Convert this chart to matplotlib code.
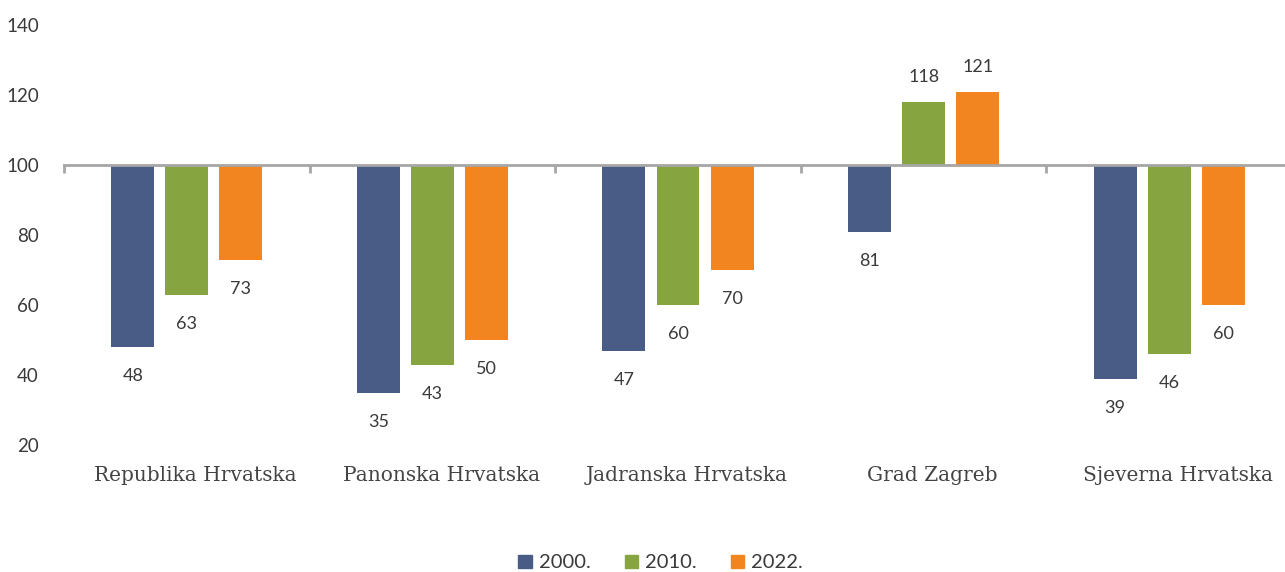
import numpy as np
import matplotlib
matplotlib.use("Agg")
from matplotlib import pyplot as plt
from matplotlib.patches import Patch
from matplotlib.transforms import offset_copy

# Data (index, 100 = baseline)
categories = ["Republika Hrvatska", "Panonska Hrvatska", "Jadranska Hrvatska",
              "Grad Zagreb", "Sjeverna Hrvatska"]
years = ["2000.", "2010.", "2022."]
v2000 = [48, 35, 47, 81, 39]
v2010 = [63, 43, 60, 118, 46]
v2022 = [73, 50, 70, 121, 60]

colors = ["#485c86", "#86a540", "#f38521"]
base = 100
num_font = "Lato"
cat_font = "DejaVu Serif"
txt_col = "#3a3a3a"

fig = plt.figure(figsize=(12.85, 5.72), dpi=100)
ax = fig.add_axes([64/1285, 0.222, (1292-64)/1285, 0.734])

x = np.arange(len(categories))
width = 0.175
offs = [-0.22, 0.0, 0.22]
for vals, off, col in zip([v2000, v2010, v2022], offs, colors):
    heights = [v - base for v in vals]
    ax.bar(x + off, heights, width, bottom=base, color=col, zorder=2)
    for xi, v in zip(x + off, vals):
        dy = 18 if v >= base else -21
        ax.annotate(str(v), (xi, v), xytext=(0, dy), textcoords="offset points",
                    ha="center", va="center", fontsize=13, family=num_font, color=txt_col)

ax.set_xlim(-0.5, len(categories) - 0.5)
ax.set_ylim(20, 140)
ax.set_yticks(range(20, 141, 20))
ax.tick_params(axis="y", length=0, pad=18, labelsize=13.5, labelcolor=txt_col)
for lab in ax.get_yticklabels():
    lab.set_family(num_font)

# category axis sits on the 100 line
for s in ["top", "right", "left"]:
    ax.spines[s].set_visible(False)
ax.spines["bottom"].set_position(("data", base))
ax.spines["bottom"].set_color("#a6a6a6")
ax.spines["bottom"].set_linewidth(2)
ax.spines["bottom"].set_zorder(3)
ax.set_xticks(np.arange(-0.5, len(categories) + 0.5, 1.0))
ax.set_xticklabels([])
ax.tick_params(axis="x", direction="out", length=6, width=2, color="#a6a6a6")

lab_tr = offset_copy(ax.get_xaxis_transform(), fig=fig, x=9, y=0, units="dots")
for xi, name in zip(x, categories):
    ax.text(xi, -0.072, name, transform=lab_tr, ha="center", va="center",
            fontsize=14.5, family=cat_font, color="#444444")

handles = [Patch(color=c, label=y) for c, y in zip(colors, years)]
leg = fig.legend(handles=handles, loc="center", bbox_to_anchor=(0.514, 9/572), ncol=3,
                 frameon=False, handlelength=0.65, handleheight=0.65, handletextpad=0.35,
                 columnspacing=1.7, prop={"family": num_font, "size": 14.5})
for t in leg.get_texts():
    t.set_color(txt_col)

fig.savefig("out.png", dpi=100)
